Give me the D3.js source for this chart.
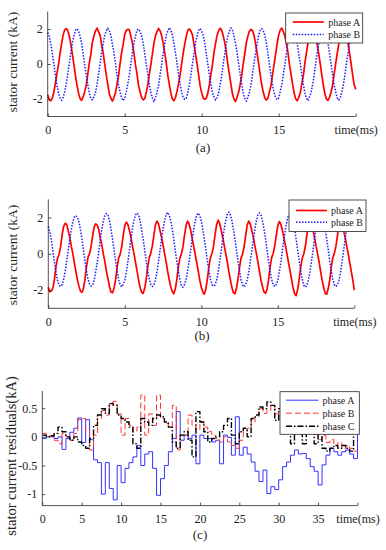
<!DOCTYPE html>
<html>
<head>
<meta charset="utf-8">
<script src="https://d3js.org/d3.v7.min.js"></script>
<style>
  body { margin: 0; background: #fff; }
  svg { display: block; font-family: "Liberation Serif", "Times New Roman", serif; }
</style>
</head>
<body>
<svg id="chart" width="386" height="550"></svg>
<script>
// sampling steps (ms)
const stepAB = 0.1;
const stepC = 0.5;

// tick values / labels
const xTicksAB = [0, 5, 10, 15, 20];
const xTicksC = [0, 5, 10, 15, 20, 25, 30, 35, 40];
const yTicksAB = [-2, 0, 2];
const yTicksC = [-1, -0.5, 0, 0.5];
const xLastLabel = "time(ms)";

// (a) stator current, kA, every 0.1 ms
const phaseA_a = [
  -1.75,-2.05,-2.10,-1.95,-1.60,-1.10,-0.55,-0.05,0.60,1.15,1.65,1.95,2.02,1.92,1.60,1.15,0.58,-0.02,-0.65,-1.20,
  -1.65,-1.98,-2.08,-1.88,-1.58,-1.22,-0.60,0.05,0.55,1.22,1.60,1.88,2.05,1.85,1.65,1.12,0.65,0.02,-0.60,-1.15,
  -1.70,-1.95,-2.12,-1.92,-1.65,-1.15,-0.68,0.02,0.65,1.12,1.68,1.92,1.98,1.95,1.58,1.20,0.60,-0.05,-0.58,-1.22,
  -1.60,-1.92,-2.05,-1.98,-1.62,-1.20,-0.58,-0.02,0.58,1.20,1.62,1.85,2.03,1.90,1.62,1.18,0.62,0.05,-0.66,-1.18,
  -1.68,-2.00,-2.10,-1.90,-1.55,-1.12,-0.62,0.04,0.62,1.15,1.58,1.95,2.00,1.88,1.66,1.14,0.56,0.00,-0.62,-1.25,
  -1.65,-1.96,-2.02,-1.94,-1.66,-1.18,-0.56,-0.04,0.66,1.18,1.64,1.90,2.04,1.93,1.60,1.22,0.64,-0.03,-0.60,-1.16,
  -1.72,-2.02,-2.14,-1.88,-1.60,-1.16,-0.64,0.03,0.60,1.24,1.60,1.88,1.98,1.90,1.64,1.16,0.60,0.02,-0.64,-1.20,
  -1.62,-1.94,-2.06,-1.96,-1.58,-1.22,-0.60,-0.02,0.57,1.16,1.66,1.94,2.05,1.86,1.58,1.18,0.66,-0.04,-0.58,-1.14,
  -1.66,-1.98,-2.10,-1.92,-1.64,-1.14,-0.66,0.05,0.64,1.20,1.62,1.90,2.00,1.92,1.62,1.12,0.58,0.00,-0.63,-1.22,
  -1.70,-2.00,-2.08,-1.90,-1.60,-1.20,-0.58,0.02,0.60,1.14,1.64,1.92,2.02,1.88,1.60,1.20,0.62,0.03,-0.62,-1.18,
  -1.45
];
const phaseB_a = [
  1.80,1.60,1.15,0.60,0.02,-0.65,-1.20,-1.65,-1.95,-2.08,-1.92,-1.60,-1.15,-0.60,0.03,0.62,1.20,1.60,1.92,2.02,
  1.88,1.58,1.20,0.58,-0.04,-0.60,-1.16,-1.66,-1.98,-2.05,-1.88,-1.64,-1.20,-0.58,0.00,0.66,1.15,1.64,1.88,2.05,
  1.92,1.64,1.14,0.65,0.03,-0.63,-1.22,-1.60,-1.92,-2.10,-1.95,-1.58,-1.16,-0.64,0.04,0.60,1.22,1.58,1.94,2.00,
  1.86,1.60,1.18,0.60,-0.02,-0.58,-1.18,-1.64,-1.96,-2.15,-1.90,-1.62,-1.22,-0.60,-0.02,0.64,1.16,1.66,1.90,2.08,
  1.90,1.66,1.16,0.62,0.04,-0.64,-1.15,-1.60,-1.94,-2.02,-1.96,-1.60,-1.18,-0.62,0.02,0.58,1.20,1.62,1.92,2.03,
  1.85,1.62,1.20,0.56,-0.03,-0.60,-1.20,-1.62,-1.90,-2.06,-1.92,-1.66,-1.14,-0.66,0.00,0.62,1.18,1.60,1.88,2.06,
  1.92,1.58,1.15,0.64,0.02,-0.62,-1.16,-1.68,-1.98,-2.12,-1.90,-1.62,-1.20,-0.58,0.05,0.64,1.14,1.64,1.94,2.02,
  1.88,1.64,1.22,0.58,-0.04,-0.66,-1.22,-1.62,-1.92,-2.04,-1.94,-1.58,-1.16,-0.62,-0.03,0.60,1.22,1.62,1.90,2.04,
  1.90,1.60,1.16,0.62,0.02,-0.60,-1.18,-1.64,-1.96,-2.10,-1.88,-1.64,-1.18,-0.64,0.02,0.62,1.16,1.66,1.92,2.00,
  1.86,1.62,1.18,0.60,0.00,-0.62,-1.20,-1.60,-1.94,-2.06,-1.92,-1.60,-1.20,-0.60,0.03,0.64,1.18,1.60,1.90,2.03,
  1.88
];

// (b) stator current, kA, every 0.1 ms
const phaseA_b = [
  -1.85,-2.08,-2.05,-1.88,-1.42,-0.72,-0.25,-0.05,0.38,1.02,1.50,1.68,1.62,1.28,0.92,0.42,0.02,-0.48,-0.95,-1.42,
  -1.78,-2.05,-2.12,-1.92,-1.38,-0.68,-0.18,0.02,0.42,0.98,1.48,1.65,1.58,1.32,0.88,0.46,-0.02,-0.44,-0.98,-1.38,
  -1.82,-2.10,-2.15,-1.88,-1.44,-0.74,-0.22,-0.02,0.40,1.04,1.55,1.75,1.62,1.30,0.90,0.44,0.00,-0.46,-0.94,-1.44,
  -1.85,-2.12,-2.18,-1.90,-1.40,-0.70,-0.20,0.04,0.44,1.02,1.58,1.80,1.66,1.28,0.92,0.48,0.02,-0.45,-0.96,-1.40,
  -1.80,-2.08,-2.20,-1.94,-1.42,-0.72,-0.24,0.00,0.38,1.00,1.55,1.80,1.64,1.32,0.88,0.42,-0.02,-0.48,-0.95,-1.45,
  -1.84,-2.12,-2.22,-1.92,-1.38,-0.70,-0.20,0.02,0.42,1.05,1.60,1.85,1.68,1.30,0.90,0.45,0.00,-0.45,-0.98,-1.42,
  -1.86,-2.15,-2.20,-1.90,-1.40,-0.74,-0.22,-0.02,0.40,1.02,1.58,1.80,1.64,1.28,0.92,0.44,0.02,-0.46,-0.96,-1.44,
  -1.82,-2.10,-2.18,-1.92,-1.42,-0.70,-0.20,0.02,0.44,1.00,1.55,1.78,1.62,1.30,0.88,0.46,-0.02,-0.48,-0.94,-1.40,
  -1.88,-2.20,-2.30,-1.96,-1.40,-0.72,-0.24,0.00,0.40,1.04,1.60,1.82,1.66,1.32,0.90,0.42,0.00,-0.45,-0.98,-1.46,
  -1.86,-2.18,-2.22,-1.90,-1.42,-0.70,-0.20,0.04,0.42,1.02,1.58,1.80,1.64,1.28,0.92,0.44,0.02,-0.48,-0.96,-1.42,
  -2.00
];
const phaseB_b = [
  1.50,1.20,0.75,0.15,-0.45,-1.00,-1.45,-1.72,-1.80,-1.70,-1.42,-1.00,-0.42,0.15,0.78,1.32,1.75,2.02,2.10,2.02,
  1.78,1.32,0.82,0.18,-0.42,-0.98,-1.40,-1.68,-1.78,-1.72,-1.46,-0.98,-0.46,0.14,0.82,1.36,1.82,2.12,2.22,2.12,
  1.82,1.36,0.78,0.22,-0.40,-0.94,-1.42,-1.72,-1.82,-1.68,-1.44,-1.02,-0.44,0.16,0.80,1.38,1.84,2.14,2.25,2.14,
  1.80,1.34,0.82,0.20,-0.38,-0.96,-1.38,-1.70,-1.80,-1.72,-1.46,-1.00,-0.46,0.18,0.82,1.36,1.82,2.16,2.28,2.12,
  1.84,1.36,0.80,0.18,-0.42,-0.95,-1.42,-1.74,-1.84,-1.70,-1.42,-0.98,-0.44,0.15,0.80,1.34,1.80,2.12,2.24,2.10,
  1.80,1.32,0.78,0.22,-0.40,-0.96,-1.40,-1.70,-1.78,-1.72,-1.46,-1.02,-0.45,0.16,0.82,1.38,1.84,2.16,2.30,2.14,
  1.82,1.35,0.80,0.20,-0.42,-0.94,-1.44,-1.72,-1.82,-1.70,-1.44,-1.00,-0.42,0.14,0.78,1.35,1.82,2.14,2.25,2.12,
  1.80,1.34,0.82,0.18,-0.40,-0.98,-1.42,-1.70,-1.80,-1.68,-1.46,-0.98,-0.46,0.18,0.80,1.36,1.80,2.12,2.22,2.10,
  1.82,1.36,0.78,0.20,-0.38,-0.95,-1.40,-1.74,-1.84,-1.72,-1.44,-1.00,-0.44,0.15,0.82,1.38,1.84,2.16,2.28,2.14,
  1.80,1.32,0.80,0.22,-0.42,-0.96,-1.42,-1.70,-1.80,-1.70,-1.45,-1.02,-0.45,0.16,0.80,1.35,1.82,2.14,2.24,2.12,
  1.80
];

// (c) residuals, kA, every 0.5 ms (held)
const resA = [
  -0.03,0,0.01,-0.03,0,-0.22,-0.03,0.08,0.15,0.33,
  -0.1,0.3,-0.05,-0.4,-0.45,-1.0,-0.45,-0.9,-1.1,-0.5,
  -0.8,-0.55,-0.45,-0.35,-0.15,-0.5,-0.3,-0.26,-0.55,-1.02,
  -0.73,-0.5,-0.26,-0.03,0.44,-0.06,0.03,-0.03,0.03,-0.47,
  0.03,-0.03,-0.03,-0.09,-0.06,-0.47,0.03,-0.01,-0.32,0.35,
  -0.32,-0.18,-0.3,-0.44,-0.6,-0.78,-0.58,-0.99,-0.87,-0.92,
  -0.75,-0.52,-0.44,-0.32,-0.23,-0.3,-0.29,-0.38,-0.52,-0.6,
  -0.84,-0.49,-0.32,-0.2,-0.26,-0.32,-0.26,-0.23,-0.3,-0.38,
  0.2
];
const resB = [
  0.06,0.03,0,-0.06,-0.12,0.06,0,-0.06,0.06,0.3,
  0.32,0.12,-0.23,0.03,0.32,0.46,0.38,0.6,0.62,0.4,
  0.03,0.32,0.2,0.09,0.17,0.73,0.03,0.4,0.2,0.73,
  0.32,0.23,0.17,0.55,-0.23,0.03,0.03,0.38,0.2,0.12,
  0.26,0.17,0.09,0.03,-0.03,-0.09,0,-0.09,-0.15,-0.2,
  -0.06,0.09,0.15,0.26,0.35,0.49,0.41,0.46,0.55,0.4,
  0.49,0.29,0.38,0.26,0.2,0.3,0.15,0.2,0.1,0.05,
  -0.05,0.02,-0.1,-0.05,-0.15,-0.1,-0.2,-0.15,-0.2,-0.25,
  -0.25
];
const resC = [
  0.03,0,0.02,0.06,0.17,0.09,0,-0.06,0,-0.09,
  -0.15,-0.2,-0.03,0.2,0.38,0.49,0.41,0.58,0.55,0.38,
  0.32,0.26,0.17,-0.12,-0.2,0.32,0.26,0.2,0.32,0.38,
  0.35,0.26,0.17,-0.09,-0.2,0.03,0.09,-0.06,-0.35,0.44,
  0.26,0.09,-0.09,-0.03,0,0.09,0.2,0.32,0.03,-0.12,
  0.09,0.15,0,0.32,0.38,0.52,0.49,0.61,0.55,0.29,
  0.49,0.17,0.3,-0.12,0.25,0.35,-0.12,0.3,0.2,-0.12,
  0.15,-0.2,-0.25,-0.2,-0.15,-0.2,-0.15,-0.2,-0.25,0.1,
  0.15
];

const svg = d3.select("#chart");
const axisColor = "#262626";

function drawPanel(p) {
  const xs = d3.scaleLinear().domain(p.xDomain).range([p.left, p.right]);
  const ys = d3.scaleLinear().domain(p.yDomain).range([p.bottom, p.top]);
  const g = svg.append("g");

  // series
  p.series.forEach(function(s) {
    const line = d3.line()
      .x(function(d, i) { return xs(i * p.step); })
      .y(function(d) { return ys(d); })
      .curve(p.curve);
    g.append("path")
      .attr("d", line(s.values))
      .attr("fill", "none")
      .attr("stroke", s.color)
      .attr("stroke-width", s.width)
      .attr("stroke-dasharray", s.dash)
      .attr("stroke-linejoin", "round");
  });

  // axes (inward ticks, no box)
  const last = p.xTicks[p.xTicks.length - 1];
  const xAxis = g.append("g")
    .attr("transform", "translate(0," + p.bottom + ")")
    .call(d3.axisBottom(xs).tickValues(p.xTicks).tickSizeInner(-3).tickSizeOuter(0).tickPadding(9)
      .tickFormat(function(d) { return d === last ? xLastLabel : String(d); }));
  const yAxis = g.append("g")
    .attr("transform", "translate(" + p.left + ",0)")
    .call(d3.axisLeft(ys).tickValues(p.yTicks).tickSizeInner(-3).tickSizeOuter(0).tickPadding(5)
      .tickFormat(function(d) { return String(d); }));
  [xAxis, yAxis].forEach(function(a) {
    a.selectAll("path").attr("stroke", axisColor).attr("stroke-width", 0.8);
    a.selectAll("line").attr("stroke", axisColor).attr("stroke-width", 0.8);
    a.selectAll("text").attr("fill", "#222").style("font-size", "12px")
      .style("font-family", "'Liberation Serif', 'Times New Roman', serif");
  });
  // keep the axis line running the full height
  yAxis.select("path").attr("d", "M0," + p.top + "V" + p.bottom);
  xAxis.select("path").attr("d", "M" + p.left + ",0H" + p.right);

  // y label
  g.append("text")
    .attr("transform", "translate(" + p.ylabX + "," + p.ylabY + ") rotate(-90)")
    .attr("text-anchor", "middle")
    .style("font-size", p.ylabSize + "px")
    .attr("fill", "#222")
    .text(p.ylabel);

  // panel caption
  g.append("text")
    .attr("x", p.capX)
    .attr("y", p.capY)
    .attr("text-anchor", "middle")
    .style("font-size", "13px")
    .attr("fill", "#222")
    .text(p.caption);

  // legend
  const lg = g.append("g").attr("transform", "translate(" + p.legX + "," + p.legY + ")");
  lg.append("rect")
    .attr("width", p.legW)
    .attr("height", p.legH)
    .attr("fill", "#fff")
    .attr("stroke", axisColor)
    .attr("stroke-width", 0.8);
  p.series.forEach(function(s, i) {
    const yy = p.legRow0 + i * p.legGap;
    lg.append("line")
      .attr("x1", p.legLine0).attr("x2", p.legLine1)
      .attr("y1", yy).attr("y2", yy)
      .attr("stroke", s.color)
      .attr("stroke-width", s.width)
      .attr("stroke-dasharray", s.dash);
    lg.append("text")
      .attr("x", p.legText)
      .attr("y", yy + 3.5)
      .style("font-size", "10px")
      .attr("fill", "#222")
      .text(s.name);
  });
}

drawPanel({
  xDomain: [0, 20], yDomain: [-3, 3], left: 47.7, right: 355.7, top: 11.5, bottom: 116.5,
  step: stepAB, curve: d3.curveLinear, xTicks: xTicksAB, yTicks: yTicksAB,
  ylabel: "stator current (kA)", ylabX: 17, ylabY: 62, ylabSize: 13.5,
  caption: "(a)", capX: 203, capY: 152,
  legX: 285.7, legY: 13, legW: 77, legH: 30, legRow0: 9, legGap: 12.6, legLine0: 7, legLine1: 38, legText: 42.5,
  series: [
    { name: "phase A", values: phaseA_a, color: "#ff0000", width: 1.7, dash: null },
    { name: "phase B", values: phaseB_a, color: "#1a1aff", width: 1.5, dash: "1.5,1.5" }
  ]
});

drawPanel({
  xDomain: [0, 20], yDomain: [-3, 3], left: 48.3, right: 354.3, top: 199.3, bottom: 308.3,
  step: stepAB, curve: d3.curveLinear, xTicks: xTicksAB, yTicks: yTicksAB,
  ylabel: "stator current (kA)", ylabX: 17, ylabY: 255, ylabSize: 13.5,
  caption: "(b)", capX: 202, capY: 340,
  legX: 289, legY: 200, legW: 77, legH: 31.5, legRow0: 10.5, legGap: 11.7, legLine0: 7, legLine1: 38, legText: 42,
  series: [
    { name: "phase A", values: phaseA_b, color: "#ff0000", width: 1.7, dash: null },
    { name: "phase B", values: phaseB_b, color: "#1a1aff", width: 1.5, dash: "1.5,1.5" }
  ]
});

drawPanel({
  xDomain: [0, 40], yDomain: [-1.2, 0.8], left: 42.3, right: 357.5, top: 391, bottom: 505.6,
  step: stepC, curve: d3.curveStepAfter, xTicks: xTicksC, yTicks: yTicksC,
  ylabel: "stator current residuals(kA)", ylabX: 16, ylabY: 456, ylabSize: 14.5,
  caption: "(c)", capX: 200, capY: 539,
  legX: 280, legY: 391.7, legW: 79.3, legH: 42.6, legRow0: 8.5, legGap: 13, legLine0: 6, legLine1: 38.5, legText: 42.5,
  series: [
    { name: "phase A", values: resA, color: "#3333ff", width: 1, dash: null },
    { name: "phase B", values: resB, color: "#ff3333", width: 1, dash: "6,3" },
    { name: "phase C", values: resC, color: "#000000", width: 1.4, dash: "6,2,1.5,2" }
  ]
});
</script>
</body>
</html>
